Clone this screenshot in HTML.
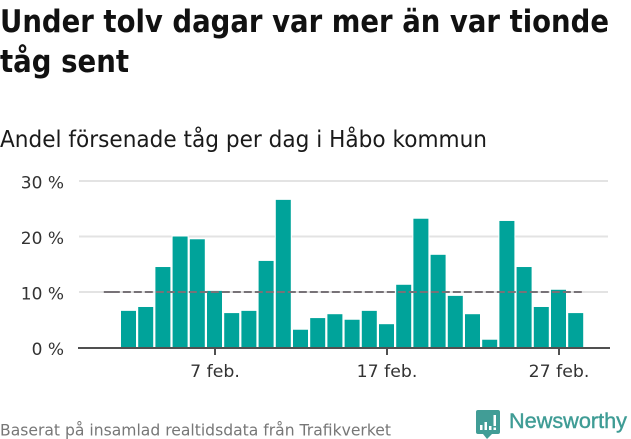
<!DOCTYPE html>
<html lang="sv">
<head>
<meta charset="utf-8">
<title>Försenade tåg i Håbo kommun</title>
<style>
html,body{margin:0;padding:0;background:#fff;width:631px;height:439px;overflow:hidden}
svg{display:block}
text{font-family:"DejaVu Sans","Liberation Sans",sans-serif}
</style>
</head>
<body>
<svg id="chart" width="631" height="439" viewBox="0 0 631 439" xmlns="http://www.w3.org/2000/svg">
  <text x="0" y="32" font-size="31" font-weight="700" fill="#111" textLength="609" lengthAdjust="spacingAndGlyphs">Under tolv dagar var mer än var tionde</text>
  <text x="0" y="72" font-size="31" font-weight="700" fill="#111" textLength="129" lengthAdjust="spacingAndGlyphs">tåg sent</text>
  <text x="0" y="147" font-size="23.5" fill="#1a1a1a" textLength="487" lengthAdjust="spacingAndGlyphs">Andel försenade tåg per dag i Håbo kommun</text>
  <g id="grid"></g>
  <g id="y-labels"></g>
  <g id="bars"></g>
  <line id="threshold" stroke="#777277" stroke-width="2"></line>
  <line id="x-axis" stroke="#505050" stroke-width="2"></line>
  <g id="x-ticks"></g>
  <text x="0" y="435.500" font-size="16" fill="#777" textLength="391" lengthAdjust="spacingAndGlyphs">Baserat på insamlad realtidsdata från Trafikverket</text>
  <g>
    <path d="M478 410H498Q500 410 500 412V432Q500 434 498 434H492L487 439L483 434H478Q476 434 476 432V412Q476 410 478 410Z" fill="#419d96"/>
    <path d="M480 425h2.500v5h-2.500zM484.500 422h2.500v8h-2.500zM489 426h2.500v4h-2.500zM493.500 415h2.500v11h-2.500zM493.500 427.500h2.500v2.500h-2.500z" fill="#fff"/>
    <text x="509" y="428" font-size="21" font-weight="400" fill="#3f9c95" stroke="#3f9c95" stroke-width="0.4" style="font-family:'Liberation Sans',sans-serif" textLength="118" lengthAdjust="spacingAndGlyphs">Newsworthy</text>
  </g>
</svg>
<script>
const days = [2,3,4,5,6,7,8,9,10,11,12,13,14,15,16,17,18,19,20,21,22,23,24,25,26,27,28];
const delayedShare = [6.6,7.3,14.5,20,19.5,10.2,6.2,6.6,15.6,26.6,3.2,5.3,6,5,6.6,4.2,11.3,23.2,16.7,9.3,6,1.4,22.8,14.5,7.3,10.4,6.2];
const yTicks = [0,10,20,30];
const xTicks = [7,17,27];
const xTickLabels = ['7 feb.','17 feb.','27 feb.'];
const thresholdValue = 10;
const thresholdStart = 0.5;
const thresholdEnd = 28.5;

const NS = 'http://www.w3.org/2000/svg';
const x = d => 215 + (d - 7) * 17.2;
const y = v => 347.5 - v * 5.55;
const make = (tag, parent) => {
  const el = document.createElementNS(NS, tag);
  document.getElementById(parent).appendChild(el);
  return el;
};

yTicks.forEach(v => {
  if (v > 0) {
    const g = make('line', 'grid');
    
    
    g.setAttribute('x1', 79);
    g.setAttribute('x2', 608);
    g.setAttribute('y1', y(v));
    g.setAttribute('y2', y(v));
    g.setAttribute('stroke', '#e3e3e3');
    g.setAttribute('stroke-width', 2);
  }
  const t = make('text', 'y-labels');
  
  
  t.setAttribute('x', 64);
  t.setAttribute('y', y(v) + 7.5);
  t.setAttribute('text-anchor', 'end');
  t.setAttribute('font-size', '17');
  t.setAttribute('fill', '#333');
  t.textContent = v + ' %';
});

days.forEach((d, i) => {
  const r = make('rect', 'bars');
  
  
  r.setAttribute('x', x(d) - 8.5);
  r.setAttribute('width', 16);
  r.setAttribute('y', y(delayedShare[i]) - 0.5);
  r.setAttribute('height', y(0) - y(delayedShare[i]) + 0.5);
  r.setAttribute('fill', '#00a39a');
  r.setAttribute('stroke', '#fff');
  r.setAttribute('stroke-width', 1);
});

const th = document.getElementById('threshold');
th.setAttribute('x1', x(thresholdStart) + 0.6);
th.setAttribute('x2', x(thresholdEnd));
th.setAttribute('y1', y(thresholdValue));
th.setAttribute('y2', y(thresholdValue));
th.setAttribute('stroke-dasharray', '16 3 ' + '8 3 '.repeat(60));

const ax = document.getElementById('x-axis');
ax.setAttribute('x1', 78);
ax.setAttribute('x2', 610);
ax.setAttribute('y1', y(0) + 0.5);
ax.setAttribute('y2', y(0) + 0.5);

xTicks.forEach((d, i) => {
  const l = make('line', 'x-ticks');
  
  
  l.setAttribute('x1', x(d));
  l.setAttribute('x2', x(d));
  l.setAttribute('y1', 348);
  l.setAttribute('y2', 355);
  l.setAttribute('stroke', '#505050');
  l.setAttribute('stroke-width', 2);
  const t = make('text', 'x-ticks');
  
  
  t.setAttribute('x', x(d));
  t.setAttribute('y', 377);
  t.setAttribute('text-anchor', 'middle');
  t.setAttribute('font-size', '17.300');
  t.setAttribute('fill', '#333');
  t.textContent = xTickLabels[i];
});
</script>
</body>
</html>
